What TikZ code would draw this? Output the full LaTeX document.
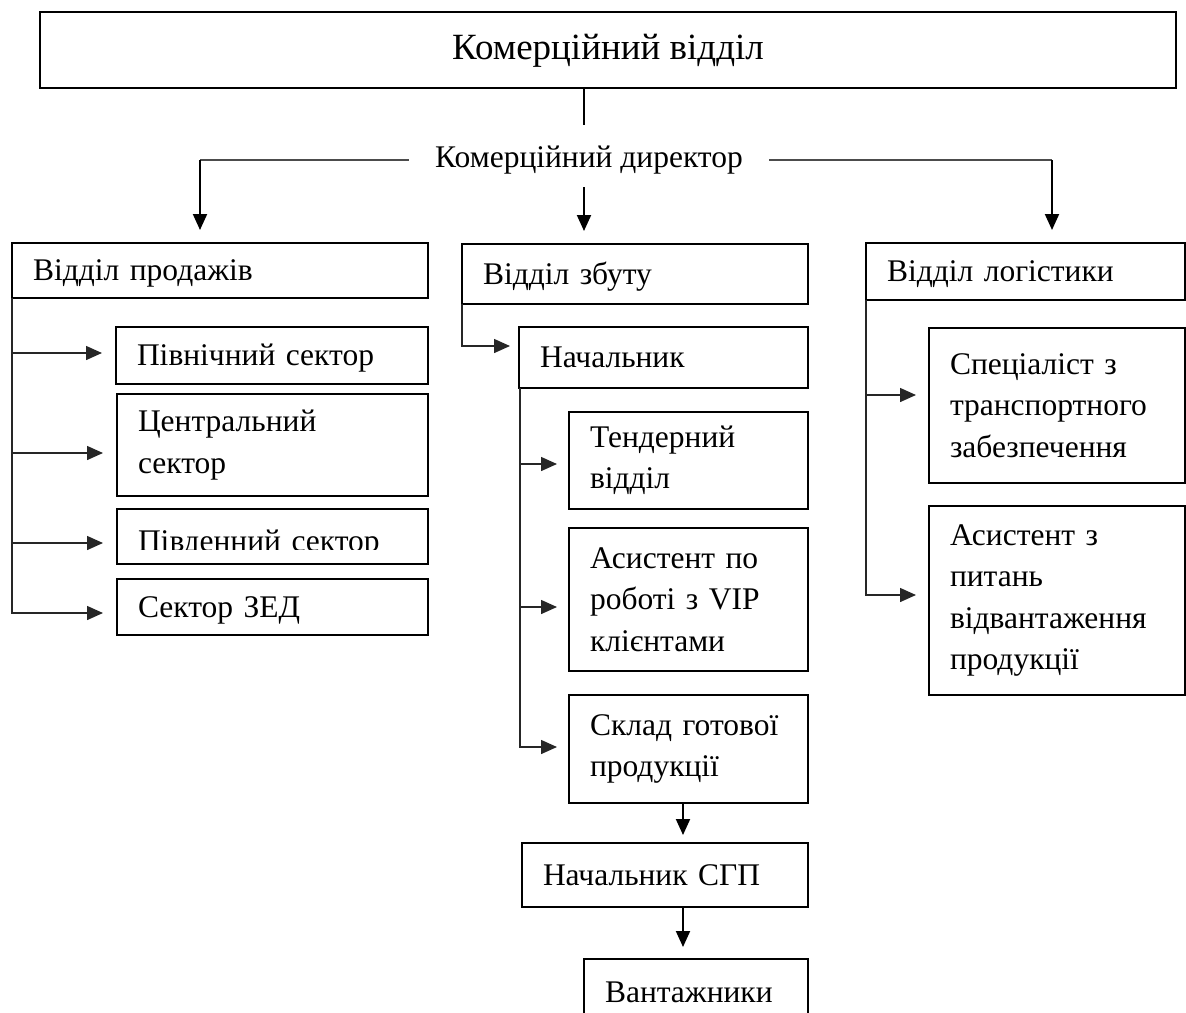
\documentclass[tikz,border=0pt]{standalone}
\usepackage{fontspec}
\setmainfont{Liberation Serif}
\usetikzlibrary{arrows.meta}
\newcommand\mybody{\fontsize{31.5}{41.5}\selectfont}
\newcommand\mytitle{\fontsize{37}{44}\selectfont}
\tikzset{
  box/.style={draw, line width=2.2pt, outer sep=0pt, anchor=north west, align=left,
    inner xsep=21pt, inner ysep=0pt, font=\mybody},
  one/.style={text height=22pt, text depth=2pt},
  arr/.style={line width=2pt, -{Triangle[length=16pt,width=14pt]}},
  spine/.style={line width=1.5pt, draw=black!85, -{Triangle[length=16pt,width=14pt]}},
  hline/.style={line width=1.4pt, draw=black!70},
  conn/.style={line width=2pt},
}
\begin{document}
\begin{tikzpicture}[x=1pt,y=-1pt]
\useasboundingbox (0,0) rectangle (1186,1012);

% title
\node[draw, line width=2.2pt, outer sep=0pt, minimum width=1136pt, minimum height=76pt,
  inner sep=0pt, font=\mytitle, text height=24pt, text depth=6pt] (title) at (608,50) {Комерційний відділ};

% director
\node[font=\mybody, minimum width=360pt, inner sep=0pt] (dir) at (589,160) {Комерційний директор};
\coordinate (dtop) at (584,125);
\coordinate (dbot) at (584,187);
\coordinate (lc) at (200,160);
\coordinate (rc) at (1052,160);

% departments
\node[box, one, text width=374pt, minimum height=55pt] (prod) at (12,243) {Відділ~продажів};
\node[box, one, text width=304pt, minimum height=60pt] (zbut) at (462,244) {Відділ~збуту};
\node[box, one, text width=277pt, minimum height=57pt] (log) at (866,243) {Відділ~логістики};

% sales sectors
\node[box, one, text width=270pt, minimum height=57pt] (pivn) at (116,327) {Північний~сектор};
\node[box, text width=269pt, minimum height=102pt] (centr) at (117,394) {Центральний\\сектор};
\node[box, text width=269pt, minimum height=55pt, text height=29pt, text depth=0pt] (pivd) at (117,509) {Південний~сектор};
\node[box, one, text width=269pt, minimum height=56pt] (zed) at (117,579) {Сектор~ЗЕД};

% distribution
\node[box, one, text width=247pt, minimum height=61pt] (nach) at (519,327) {Начальник};
\node[box, text width=197pt, minimum height=97pt] (tend) at (569,412) {Тендерний\\відділ};
\node[box, text width=197pt, minimum height=143pt] (vip) at (569,528) {Асистент~по\\роботі~з~VIP\\клієнтами};
\node[box, text width=197pt, minimum height=108pt] (sklad) at (569,695) {Склад~готової\\продукції};
\node[box, one, text width=244pt, minimum height=64pt] (sgp) at (522,843) {Начальник~СГП};
\node[box, one, text width=182pt, minimum height=66pt] (vant) at (584,959) {Вантажники};

% logistics
\node[box, text width=214pt, minimum height=155pt] (spec) at (929,328) {Спеціаліст~з\\транспортного\\забезпечення};
\node[box, text width=214pt, minimum height=189pt] (asis) at (929,506) {Асистент~з\\питань\\відвантаження\\продукції};

% clipped bottom of the text in "Південний сектор"
\fill[white] ([xshift=2pt,yshift=1.6pt]pivd.south west) rectangle ([xshift=-2pt,yshift=14pt]pivd.south east);

% connectors from the top
\draw[conn] (title.south -| dtop) -- (dtop);
\draw[hline] (dir.west) -- (lc);
\draw[hline] (dir.east) -- (rc);
\draw[arr, shorten >=13pt] (lc) -- (lc |- prod.north);
\draw[arr, shorten >=13pt] (dbot) -- (dbot |- zbut.north);
\draw[arr, shorten >=13pt] (rc) -- (rc |- log.north);

% sales
\draw[spine, shorten >=14pt] (prod.south west) |- ([yshift=2.5pt]pivn.west);
\draw[spine, shorten >=14pt] (prod.south west) |- ([yshift=-8pt]centr.west);
\draw[spine, shorten >=14pt] (prod.south west) |- ([yshift=-6.5pt]pivd.west);
\draw[spine, shorten >=14pt] (prod.south west) |- ([yshift=-6pt]zed.west);

% distribution
\draw[spine, shorten >=9pt] (zbut.south west) |- ([yshift=11.5pt]nach.west);
\draw[spine, shorten >=12pt] ([xshift=1pt]nach.south west) |- ([yshift=-3.5pt]tend.west);
\draw[spine, shorten >=12pt] ([xshift=1pt]nach.south west) |- ([yshift=-7.5pt]vip.west);
\draw[spine, shorten >=12pt] ([xshift=1pt]nach.south west) |- ([yshift=2pt]sklad.west);
\coordinate (s1) at ([xshift=-5.5pt]sklad.south);
\draw[arr, shorten >=8pt] (s1) -- (s1 |- sgp.north);
\draw[arr, shorten >=12pt] (s1 |- sgp.south) -- (s1 |- vant.north);

% logistics
\draw[spine, shorten >=13pt] (log.south west) |- ([yshift=10.5pt]spec.west);
\draw[spine, shorten >=13pt] (log.south west) |- ([yshift=5.5pt]asis.west);
\end{tikzpicture}
\end{document}
